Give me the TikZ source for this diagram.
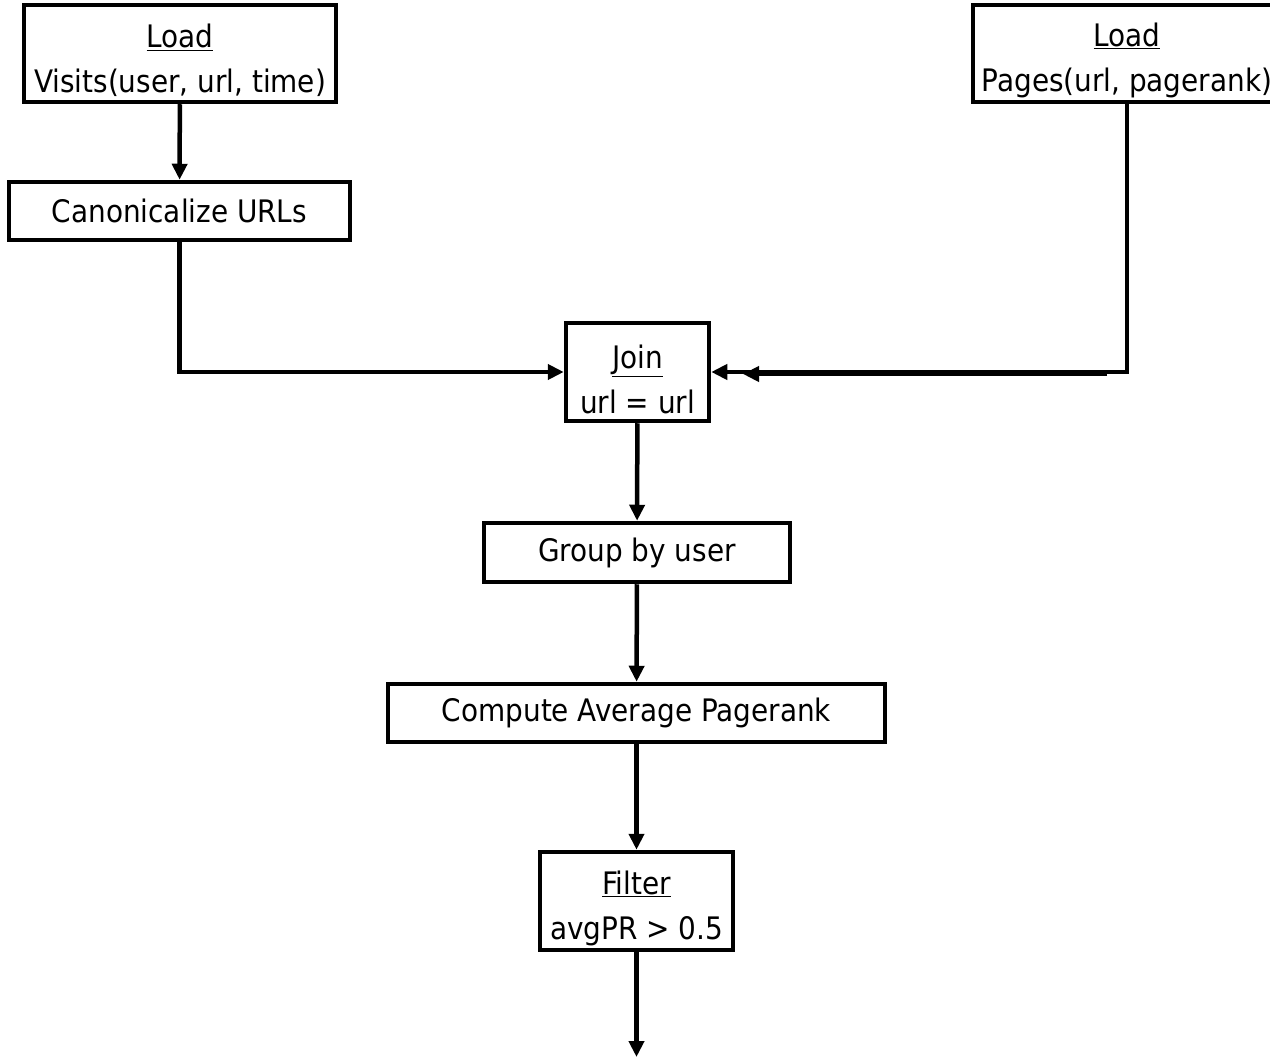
\documentclass[tikz,border=0pt]{standalone}
\usepackage{fontspec}
\setmainfont{DejaVu Sans Condensed}
\usetikzlibrary{arrows.meta}
\begin{document}
\begin{tikzpicture}[x=1pt,y=-1pt,
  opbox/.style={draw,line width=4.5pt,rectangle,inner sep=0pt,align=center,
    font=\fontsize{31}{45}\selectfont},
  twoline/.style={opbox,text height=83pt},
  flow/.style={line width=4.5pt,-{Triangle[length=16pt,width=15pt]}}]
\useasboundingbox (0,0) rectangle (1270,1059);
\clip (0,0) rectangle (1270,1059);
% operator boxes
\node[twoline,minimum width=312pt,minimum height=97pt] (visits) at (180,53.5)
  {\underline{Load}\\Visits(user, url, time)};
\node[opbox,minimum width=341pt,minimum height=58pt] (canon) at (179.5,211)
  {Canonicalize URLs};
\node[twoline,minimum width=308pt,minimum height=97pt] (pages) at (1127,53.5)
  {\underline{Load}\\Pages(url, pagerank)};
\node[twoline,minimum width=143pt,minimum height=98pt] (join) at (637.5,372)
  {\underline{Join}\\url = url};
\node[opbox,minimum width=306pt,minimum height=59pt] (group) at (637,552.5)
  {Group by user};
\node[opbox,minimum width=497pt,minimum height=58pt] (avg) at (636.5,713)
  {Compute Average Pagerank};
\node[twoline,minimum width=193pt,minimum height=98pt] (filter) at (636.5,901)
  {\underline{Filter}\\avgPR > 0.5};
\coordinate (out) at (636.5,1057);
\coordinate (dupA) at (1107,374);
\coordinate (dupB) at (743,374);
% data flow
\draw[flow] (visits) -- (canon);
\draw[flow] (canon.south) |- (join.west);
\draw[flow] (pages.south) |- (join.east);
\draw[flow] (dupA) -- (dupB);
\draw[flow] (join) -- (group);
\draw[flow] (group) -- (avg);
\draw[flow] (avg) -- (filter);
\draw[flow] (filter) -- (out);
\end{tikzpicture}
\end{document}
